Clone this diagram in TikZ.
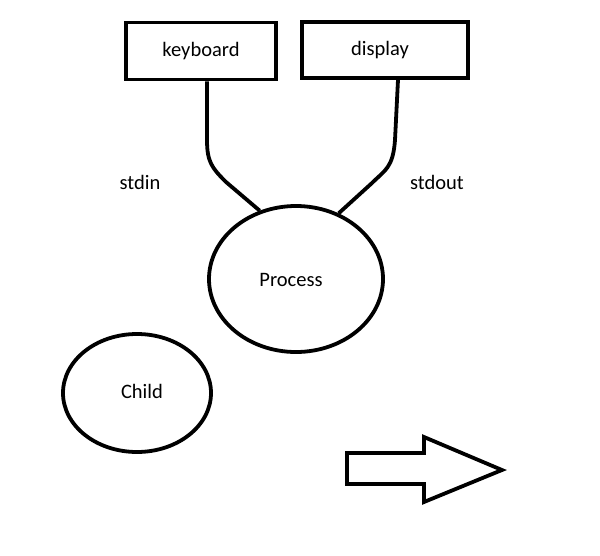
\documentclass[tikz,border=0pt]{standalone}
\usepackage{fontspec}
\setmainfont{Carlito}
\usetikzlibrary{shapes.geometric}
\begin{document}
\begin{tikzpicture}[x=1pt,y=-1pt,
  every node/.style={font=\fontsize{20.5}{24}\selectfont},
  devbox/.style={draw,line width=3.8pt,inner sep=0pt},
  proc/.style={draw,ellipse,line width=3.8pt,inner sep=0pt},
  wire/.style={line width=3.8pt},
  lbl/.style={inner sep=0pt}]
\useasboundingbox (0,0) rectangle (600,555);
\fill[white] (0,0) rectangle (600,555);
\node[devbox,minimum width=150pt,minimum height=57pt] (kb) at (201,51) {keyboard};
\node[devbox,minimum width=166pt,minimum height=56pt] (disp) at (385,50) {\hspace*{-10pt}display};
\node[proc,minimum width=174pt,minimum height=146pt] (proc) at (296,279) {};
\node[lbl] (proctxt) at (291,280) {Process};
\node[proc,minimum width=148pt,minimum height=118pt] (child) at (137,393) {};
\node[lbl] (childtxt) at (142,391) {Child};
\node[lbl] (stdin) at (140,182) {stdin};
\node[lbl] (stdout) at (437,182) {stdout};
\coordinate (k1) at (207,140);
\coordinate (d1) at (395,140);
\draw[wire] (kb.south -| k1) -- (k1) .. controls (207,162) and (212,168) .. (226,182) -- (proc.118);
\draw[wire] (disp.south -| 398,0) -- (d1) .. controls (393,168) and (385,170) .. (372,183) -- (proc.57);
\draw[line width=3.8pt,line join=miter]
  (347,453) -- (424,453) -- (424,437) -- (502,470) -- (424,502) -- (424,484) -- (347,484) -- cycle;
\end{tikzpicture}
\end{document}
